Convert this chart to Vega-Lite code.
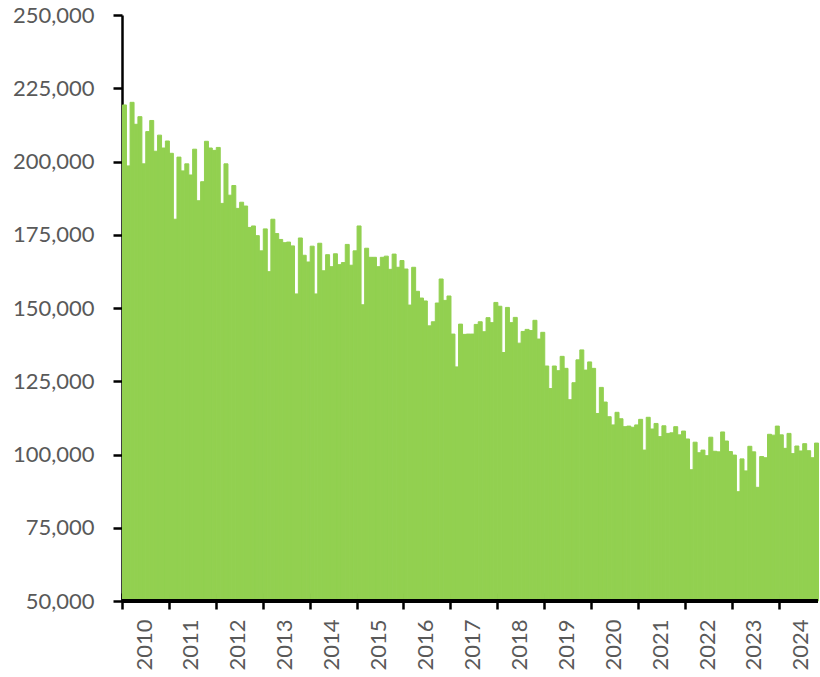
{
  "$schema": "https://vega.github.io/schema/vega-lite/v6.json",
  "width": 696,
  "height": 586,
  "autosize": {"type": "none"},
  "padding": {"left": 122, "top": 15, "right": 2, "bottom": 76},
  "background": "white",
  "config": {
    "view": {"stroke": null},
    "axis": {"labelFont": "Lato", "labelFontSize": 22, "labelColor": "#595959", "grid": false, "title": null, "zindex": 1}
  },
  "data": {"values": [
    {"d":"2010-01-01","v":219300},{"d":"2010-02-01","v":198500},{"d":"2010-03-01","v":220200},{"d":"2010-04-01","v":212700},{"d":"2010-05-01","v":215300},{"d":"2010-06-01","v":199200},{"d":"2010-07-01","v":210200},{"d":"2010-08-01","v":214000},{"d":"2010-09-01","v":203500},{"d":"2010-10-01","v":209000},{"d":"2010-11-01","v":204600},{"d":"2010-12-01","v":207000},
    {"d":"2011-01-01","v":202800},{"d":"2011-02-01","v":180300},{"d":"2011-03-01","v":201500},{"d":"2011-04-01","v":196800},{"d":"2011-05-01","v":199200},{"d":"2011-06-01","v":195400},{"d":"2011-07-01","v":204200},{"d":"2011-08-01","v":186600},{"d":"2011-09-01","v":193100},{"d":"2011-10-01","v":206900},{"d":"2011-11-01","v":204600},{"d":"2011-12-01","v":203800},
    {"d":"2012-01-01","v":204800},{"d":"2012-02-01","v":185700},{"d":"2012-03-01","v":199200},{"d":"2012-04-01","v":188500},{"d":"2012-05-01","v":191800},{"d":"2012-06-01","v":184000},{"d":"2012-07-01","v":186100},{"d":"2012-08-01","v":184800},{"d":"2012-09-01","v":177500},{"d":"2012-10-01","v":178000},{"d":"2012-11-01","v":174700},{"d":"2012-12-01","v":169500},
    {"d":"2013-01-01","v":177000},{"d":"2013-02-01","v":162400},{"d":"2013-03-01","v":180300},{"d":"2013-04-01","v":175400},{"d":"2013-05-01","v":173400},{"d":"2013-06-01","v":172300},{"d":"2013-07-01","v":172500},{"d":"2013-08-01","v":171200},{"d":"2013-09-01","v":154800},{"d":"2013-10-01","v":173900},{"d":"2013-11-01","v":168000},{"d":"2013-12-01","v":165700},
    {"d":"2014-01-01","v":171100},{"d":"2014-02-01","v":154800},{"d":"2014-03-01","v":172100},{"d":"2014-04-01","v":162700},{"d":"2014-05-01","v":168200},{"d":"2014-06-01","v":164100},{"d":"2014-07-01","v":168500},{"d":"2014-08-01","v":164800},{"d":"2014-09-01","v":165500},{"d":"2014-10-01","v":171700},{"d":"2014-11-01","v":164600},{"d":"2014-12-01","v":169500},
    {"d":"2015-01-01","v":178000},{"d":"2015-02-01","v":151100},{"d":"2015-03-01","v":170400},{"d":"2015-04-01","v":167300},{"d":"2015-05-01","v":167300},{"d":"2015-06-01","v":164100},{"d":"2015-07-01","v":167300},{"d":"2015-08-01","v":167700},{"d":"2015-09-01","v":163200},{"d":"2015-10-01","v":168400},{"d":"2015-11-01","v":163900},{"d":"2015-12-01","v":166200},
    {"d":"2016-01-01","v":163300},{"d":"2016-02-01","v":151000},{"d":"2016-03-01","v":163900},{"d":"2016-04-01","v":155700},{"d":"2016-05-01","v":153400},{"d":"2016-06-01","v":152400},{"d":"2016-07-01","v":143900},{"d":"2016-08-01","v":145300},{"d":"2016-09-01","v":151700},{"d":"2016-10-01","v":159900},{"d":"2016-11-01","v":152600},{"d":"2016-12-01","v":154100},
    {"d":"2017-01-01","v":141100},{"d":"2017-02-01","v":129900},{"d":"2017-03-01","v":144500},{"d":"2017-04-01","v":141000},{"d":"2017-05-01","v":141100},{"d":"2017-06-01","v":141100},{"d":"2017-07-01","v":144400},{"d":"2017-08-01","v":145300},{"d":"2017-09-01","v":141900},{"d":"2017-10-01","v":146700},{"d":"2017-11-01","v":145000},{"d":"2017-12-01","v":151900},
    {"d":"2018-01-01","v":150600},{"d":"2018-02-01","v":134800},{"d":"2018-03-01","v":150200},{"d":"2018-04-01","v":145000},{"d":"2018-05-01","v":146800},{"d":"2018-06-01","v":138000},{"d":"2018-07-01","v":142000},{"d":"2018-08-01","v":142700},{"d":"2018-09-01","v":142300},{"d":"2018-10-01","v":145800},{"d":"2018-11-01","v":139400},{"d":"2018-12-01","v":141700},
    {"d":"2019-01-01","v":130200},{"d":"2019-02-01","v":122500},{"d":"2019-03-01","v":130200},{"d":"2019-04-01","v":128600},{"d":"2019-05-01","v":133500},{"d":"2019-06-01","v":129400},{"d":"2019-07-01","v":118700},{"d":"2019-08-01","v":124500},{"d":"2019-09-01","v":132300},{"d":"2019-10-01","v":135700},{"d":"2019-11-01","v":128800},{"d":"2019-12-01","v":131600},
    {"d":"2020-01-01","v":129400},{"d":"2020-02-01","v":114000},{"d":"2020-03-01","v":122900},{"d":"2020-04-01","v":117900},{"d":"2020-05-01","v":112900},{"d":"2020-06-01","v":110100},{"d":"2020-07-01","v":114400},{"d":"2020-08-01","v":112200},{"d":"2020-09-01","v":109500},{"d":"2020-10-01","v":109700},{"d":"2020-11-01","v":109300},{"d":"2020-12-01","v":110100},
    {"d":"2021-01-01","v":112000},{"d":"2021-02-01","v":101500},{"d":"2021-03-01","v":112700},{"d":"2021-04-01","v":108700},{"d":"2021-05-01","v":110600},{"d":"2021-06-01","v":106100},{"d":"2021-07-01","v":109800},{"d":"2021-08-01","v":107200},{"d":"2021-09-01","v":107400},{"d":"2021-10-01","v":109500},{"d":"2021-11-01","v":106700},{"d":"2021-12-01","v":108000},
    {"d":"2022-01-01","v":105300},{"d":"2022-02-01","v":94800},{"d":"2022-03-01","v":104200},{"d":"2022-04-01","v":100600},{"d":"2022-05-01","v":101500},{"d":"2022-06-01","v":99600},{"d":"2022-07-01","v":105900},{"d":"2022-08-01","v":101100},{"d":"2022-09-01","v":100900},{"d":"2022-10-01","v":107700},{"d":"2022-11-01","v":104600},{"d":"2022-12-01","v":101000},
    {"d":"2023-01-01","v":99800},{"d":"2023-02-01","v":87300},{"d":"2023-03-01","v":98500},{"d":"2023-04-01","v":94400},{"d":"2023-05-01","v":102800},{"d":"2023-06-01","v":100900},{"d":"2023-07-01","v":88800},{"d":"2023-08-01","v":99300},{"d":"2023-09-01","v":98900},{"d":"2023-10-01","v":106900},{"d":"2023-11-01","v":106600},{"d":"2023-12-01","v":109700},
    {"d":"2024-01-01","v":106700},{"d":"2024-02-01","v":102100},{"d":"2024-03-01","v":107200},{"d":"2024-04-01","v":100300},{"d":"2024-05-01","v":102900},{"d":"2024-06-01","v":101200},{"d":"2024-07-01","v":103700},{"d":"2024-08-01","v":101300},{"d":"2024-09-01","v":98900},{"d":"2024-10-01","v":103900}
  ]},
  "layer": [
    {
      "mark": {"type": "bar", "color": "#92D050", "stroke": "#92D050", "strokeWidth": 1, "binSpacing": 0},
      "encoding": {
        "x": {
          "field": "d", "type": "temporal", "timeUnit": "utcyearmonth",
          "scale": {"type": "utc", "domain": [{"year": 2010, "month": 1, "date": 1, "utc": true}, {"year": 2024, "month": 11, "date": 1, "utc": true}], "nice": false},
          "axis": {
            "values": [{"year":2010,"utc":true},{"year":2011,"utc":true},{"year":2012,"utc":true},{"year":2013,"utc":true},{"year":2014,"utc":true},{"year":2015,"utc":true},{"year":2016,"utc":true},{"year":2017,"utc":true},{"year":2018,"utc":true},{"year":2019,"utc":true},{"year":2020,"utc":true},{"year":2021,"utc":true},{"year":2022,"utc":true},{"year":2023,"utc":true},{"year":2024,"utc":true}],
            "format": "%Y", "labelAngle": -90, "labelOffset": 22, "labelOverlap": false, "labelBound": false, "labelFlush": false,
            "domain": false, "offset": -8, "tickSize": 16, "tickColor": "black", "tickWidth": 2.5, "labelPadding": 10
          }
        },
        "y": {
          "field": "v", "type": "quantitative",
          "scale": {"domain": [50000, 250000], "nice": false, "zero": false},
          "axis": {
            "values": [50000, 75000, 100000, 125000, 150000, 175000, 200000, 225000, 250000],
            "format": ",.0f", "tickSize": 9, "tickColor": "black", "tickWidth": 2.5,
            "domainColor": "black", "domainWidth": 2.5, "labelPadding": 19
          }
        },
        "y2": {"datum": 50000}
      }
    },
    {
      "mark": {"type": "rule", "color": "black", "strokeWidth": 2.5},
      "encoding": {"y": {"datum": 50000}}
    }
  ]
}
